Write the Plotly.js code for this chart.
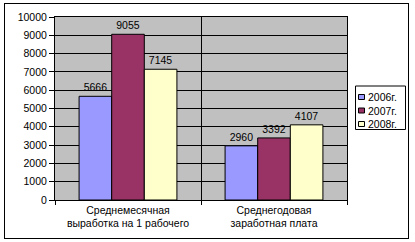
<!DOCTYPE html>
<html><head><meta charset="utf-8">
<script src="https://cdn.plot.ly/plotly-3.0.1.min.js"></script>
<style>
html,body{margin:0;padding:0;background:#fff;}
#frame{position:absolute;left:4px;top:3px;width:403px;height:234px;border:1px solid #000;}
#chart{position:absolute;left:0;top:0;width:415px;height:242px;}
</style></head>
<body><div id="frame"></div><div id="chart"></div>
<script>
const categories = ["Среднемесячная<br>выработка на 1 рабочего", "Среднегодовая<br>заработная плата"];
const seriesNames = ["2006г.", "2007г.", "2008г."];
const values2006 = [5666, 2960];
const values2007 = [9055, 3392];
const values2008 = [7145, 4107];
const yTicks = [0,1000,2000,3000,4000,5000,6000,7000,8000,9000,10000];

const colors = ["#9999FF", "#993366", "#FFFFCC"];
const allVals = [values2006, values2007, values2008];
const font = {family: "Liberation Sans, Arial, sans-serif", size: 10.5, color: "#000"};

const traces = allVals.map((v, i) => ({
  type: "bar", x: categories, y: v, name: seriesNames[i],
  marker: {color: colors[i], line: {color: "#000", width: 1}},
  text: v.map(String), textposition: "outside", cliponaxis: false,
  textfont: font
}));

// plot area geometry in pixels (for the hand-drawn legend)
const W = 415, H = 242, L = 55, R = 68, T = 17, B = 42;
const pw = W - L - R, ph = H - T - B;
const px = x => (x - L) / pw;
const py = y => (H - B - y) / ph;

const shapes = [{type: "rect", xref: "paper", yref: "paper",
  x0: px(355.5), x1: px(405.5), y0: py(129.5), y1: py(86),
  fillcolor: "#fff", line: {color: "#000", width: 1}}];
const annotations = [];
seriesNames.forEach((n, i) => {
  const cy = 97 + i * 13.5;
  shapes.push({type: "rect", xref: "paper", yref: "paper",
    x0: px(358.5), x1: px(364.5), y0: py(cy + 2.5), y1: py(cy - 2.5),
    fillcolor: colors[i], line: {color: "#000", width: 1}});
  annotations.push({xref: "paper", yref: "paper", x: px(365.5), y: py(cy),
    xanchor: "left", yanchor: "middle", text: n, showarrow: false, font: font});
});

const layout = {
  width: W, height: H,
  margin: {l: L, r: R, t: T, b: B, pad: 0},
  paper_bgcolor: "rgba(0,0,0,0)", plot_bgcolor: "#C0C0C0",
  font: font,
  barmode: "group", bargap: 0.33, bargroupgap: 0,
  showlegend: false,
  shapes: shapes, annotations: annotations,
  xaxis: {tickson: "boundaries", ticks: "outside", ticklen: 4, tickcolor: "#000",
    showgrid: true, gridcolor: "#000", gridwidth: 1, showline: true, linecolor: "#000",
    mirror: true, tickfont: font, fixedrange: true},
  yaxis: {range: [0, 10000], tickvals: yTicks, ticktext: yTicks.map(String),
    ticks: "outside", ticklen: 5, tickcolor: "#000", showgrid: true, gridcolor: "#000",
    showline: true, linecolor: "#000", mirror: true, zeroline: false, tickfont: font}
};
Plotly.newPlot("chart", traces, layout, {staticPlot: true});
</script></body></html>
